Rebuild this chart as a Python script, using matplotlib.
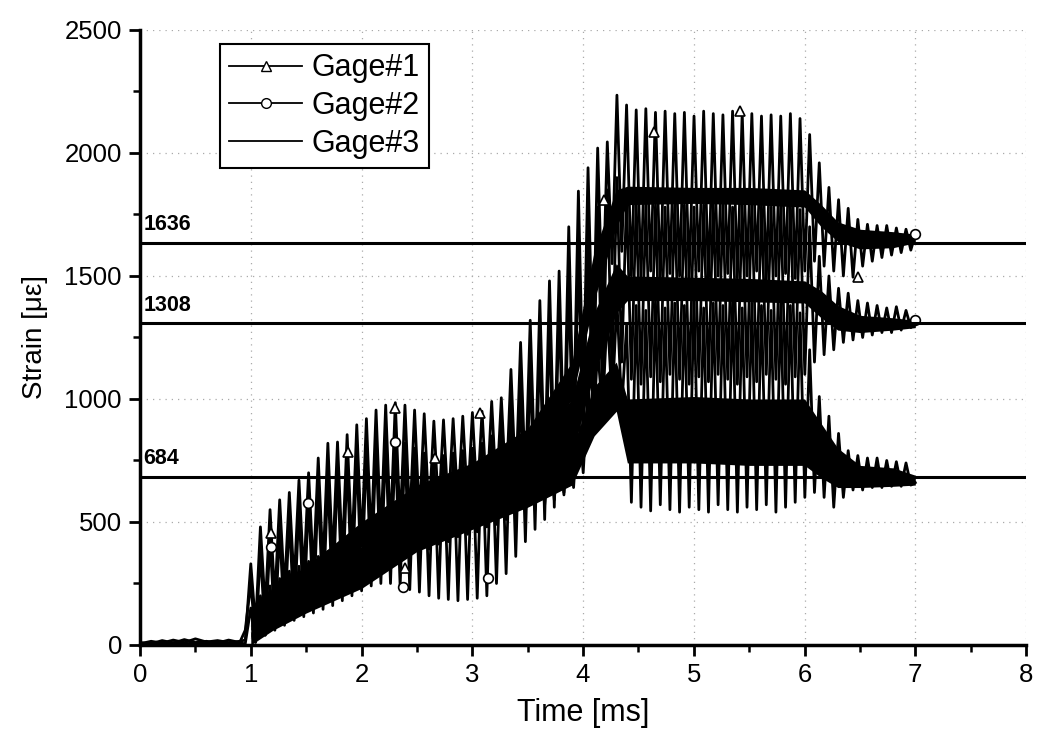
import numpy as np
import matplotlib
matplotlib.use('Agg')
from matplotlib import pyplot as plt

plt.rcParams['font.family'] = ['Liberation Sans', 'DejaVu Sans']

# pre-trigger noise (0 - 0.95 ms)
pre_t = [0.0, 0.1, 0.2, 0.3, 0.4, 0.5, 0.6, 0.7, 0.8, 0.9, 0.95]
g1_pre = [5, 15, 8, 20, 10, 25, 12, 18, 10, 15, 20]
g2_pre = [10, 5, 18, 8, 22, 10, 15, 8, 20, 10, 60]
g3_pre = [0, 8, 3, 10, 5, 8, 3, 10, 5, 8, 5]

# oscillation: one peak and one trough per cycle, 69 cycles from 1.0 ms
t_start = 1.0
period = 0.087

g1_peak = [330, 480, 550, 590, 620, 670, 700, 760, 820, 825,
           855, 895, 920, 955, 975, 985, 975, 955, 940, 910,
           915, 920, 930, 945, 950, 990, 1005, 1120, 1230, 1320,
           1400, 1480, 1520, 1700, 1845, 1940, 2020, 2045, 2235, 2195,
           2175, 2180, 2165, 2170, 2160, 2165, 2150, 2170, 2160, 2155,
           2170, 2165, 2160, 2150, 2155, 2150, 2160, 2140, 2075, 1960,
           1860, 1810, 1775, 1730, 1710, 1705, 1705, 1695, 1690]
g1_trough = [80, 150, 190, 220, 250, 280, 300, 320, 345, 365,
             385, 405, 425, 445, 465, 485, 500, 515, 530, 545,
             555, 565, 575, 585, 595, 610, 625, 640, 660, 680,
             700, 740, 800, 880, 1000, 1150, 1350, 1550, 1600, 1500,
             1490, 1520, 1480, 1510, 1500, 1490, 1520, 1480, 1500, 1510,
             1490, 1500, 1520, 1480, 1500, 1510, 1490, 1520, 1560, 1540,
             1520, 1500, 1495, 1540, 1560, 1575, 1585, 1595, 1605]

g2_peak = [250, 380, 430, 470, 520, 560, 600, 640, 680, 720,
           750, 780, 800, 820, 830, 830, 820, 800, 780, 770,
           770, 780, 790, 800, 820, 850, 900, 980, 1060, 1150,
           1250, 1330, 1400, 1480, 1600, 1700, 1780, 1850, 1900, 1820,
           1800, 1790, 1790, 1780, 1800, 1790, 1780, 1790, 1800, 1790,
           1780, 1790, 1800, 1790, 1780, 1790, 1800, 1770, 1700, 1580,
           1500, 1450, 1430, 1400, 1390, 1380, 1370, 1375, 1360]
g2_trough = [20, 40, 60, 80, 100, 115, 130, 145, 160, 180,
             200, 220, 240, 250, 250, 236, 225, 215, 200, 190,
             185, 180, 185, 190, 200, 250, 290, 360, 420, 470,
             510, 560, 620, 700, 800, 900, 1000, 1100, 1150, 1080,
             1060, 1090, 1070, 1100, 1080, 1060, 1090, 1070, 1100, 1080,
             1060, 1090, 1070, 1100, 1080, 1060, 1090, 1100, 1150, 1180,
             1200, 1230, 1240, 1250, 1260, 1270, 1270, 1280, 1290]

g3_peak = [150, 200, 240, 270, 300, 320, 340, 360, 380, 400,
           420, 440, 460, 480, 500, 520, 540, 560, 580, 600,
           610, 620, 630, 640, 650, 660, 680, 700, 720, 740,
           760, 790, 830, 880, 950, 1050, 1200, 1350, 1400, 1300,
           1380, 1360, 1400, 1370, 1390, 1380, 1410, 1370, 1390, 1380,
           1400, 1370, 1390, 1380, 1360, 1390, 1380, 1350, 1200, 1010,
           930, 860, 790, 770, 760, 760, 750, 745, 740]
g3_trough = [10, 40, 70, 90, 110, 130, 150, 170, 190, 210,
             230, 250, 270, 290, 310, 330, 350, 370, 390, 410,
             420, 440, 450, 460, 480, 490, 510, 520, 540, 550,
             570, 590, 610, 640, 700, 850, 950, 980, 960, 580,
             560, 545, 570, 550, 540, 560, 550, 540, 570, 550,
             540, 560, 550, 570, 540, 560, 580, 600, 620, 600,
             560, 600, 630, 630, 640, 640, 645, 645, 650]

g_end = [1670, 1320, 660]

# dense noise bands of each gage
band_t = [1.0, 1.2, 1.5, 2.0, 2.5, 3.0, 3.5, 3.9, 4.1, 4.3,
          4.4, 5.0, 5.5, 6.0, 6.15, 6.3, 6.5, 6.8, 7.0]
g1_lo = [60, 150, 250, 400, 520, 620, 720, 1000, 1400, 1700,
         1790, 1795, 1790, 1780, 1700, 1640, 1610, 1615, 1635]
g1_hi = [130, 230, 320, 500, 650, 740, 880, 1150, 1600, 1850,
         1865, 1860, 1860, 1850, 1790, 1720, 1690, 1680, 1670]
g2_lo = [30, 120, 190, 300, 440, 530, 630, 780, 1100, 1350,
         1400, 1400, 1395, 1390, 1330, 1280, 1270, 1280, 1290]
g2_hi = [100, 200, 280, 400, 560, 660, 770, 1000, 1350, 1550,
         1500, 1495, 1490, 1480, 1440, 1380, 1340, 1330, 1320]
g3_lo = [0, 60, 130, 230, 380, 470, 560, 650, 850, 950,
         740, 740, 730, 730, 680, 640, 640, 645, 650]
g3_hi = [50, 140, 210, 320, 480, 560, 650, 800, 1050, 1150,
         1000, 1010, 1000, 1000, 900, 800, 730, 720, 690]

# sparse symbols
g1_mark_t = [1.18, 1.88, 2.30, 2.39, 2.66, 3.07, 4.19, 4.64, 5.42, 6.48]
g1_mark_v = [455, 785, 963, 313, 760, 943, 1810, 2085, 2170, 1496]
g2_mark_t = [1.18, 1.52, 2.30, 2.37, 3.14, 7.0, 7.0]
g2_mark_v = [398, 577, 825, 236, 272, 1670, 1320]

# reference levels
ref_levels = [1636, 1308, 684]


def build(pre, peaks, troughs, end):
    k = np.arange(len(peaks))
    tp = t_start + period * k
    tt = tp + period / 2
    t = list(pre_t)
    v = list(pre)
    for a, b, c, d in zip(tp, peaks, tt, troughs):
        t += [a, c]
        v += [b, d]
    t.append(7.0)
    v.append(end)
    return t, v


fig = plt.figure(figsize=(10.38, 7.4), dpi=100)
ax = fig.add_axes([0.1349, 0.1284, 0.8536, 0.8311])

ax.grid(True, which='major', color='#aaaaaa', linestyle=(0, (1, 4)), linewidth=0.9)
ax.set_axisbelow(True)

series = [(g1_pre, g1_peak, g1_trough, g_end[0], g1_lo, g1_hi),
          (g2_pre, g2_peak, g2_trough, g_end[1], g2_lo, g2_hi),
          (g3_pre, g3_peak, g3_trough, g_end[2], g3_lo, g3_hi)]
for pre, pk, tr, end, lo, hi in series:
    t, v = build(pre, pk, tr, end)
    ax.plot(t, v, color='black', linewidth=2.0, zorder=3)
    ax.fill_between(band_t, lo, hi, color='black', linewidth=0, zorder=3)

ax.plot(g1_mark_t, g1_mark_v, linestyle='none', marker='^', markersize=7,
        markerfacecolor='white', markeredgecolor='black', markeredgewidth=1.2, zorder=4)
ax.plot(g2_mark_t, g2_mark_v, linestyle='none', marker='o', markersize=7,
        markerfacecolor='white', markeredgecolor='black', markeredgewidth=1.2, zorder=4)

for lvl in ref_levels:
    ax.axhline(lvl, color='black', linewidth=2.2, zorder=5)
    ax.text(0.03, lvl + 30, str(lvl), fontsize=15.5, fontweight='bold',
            ha='left', va='bottom', zorder=6)

# legend handles
h1, = ax.plot([], [], color='black', linewidth=1.3, marker='^', markersize=7,
              markerfacecolor='white', markeredgecolor='black')
h2, = ax.plot([], [], color='black', linewidth=1.3, marker='o', markersize=7,
              markerfacecolor='white', markeredgecolor='black')
h3, = ax.plot([], [], color='black', linewidth=1.3)
leg = ax.legend([h1, h2, h3], ['Gage#1', 'Gage#2', 'Gage#3'],
                loc='upper left', bbox_to_anchor=(0.09, 0.977),
                fontsize=22, handlelength=2.4, handletextpad=0.3,
                labelspacing=0.25, borderpad=0.3, borderaxespad=0,
                fancybox=False, framealpha=1, edgecolor='black')
leg.get_frame().set_linewidth(1.5)
leg.set_zorder(10)

ax.set_xlim(0, 8)
ax.set_ylim(0, 2500)
ax.set_xticks(range(0, 9))
ax.set_xticks(np.arange(0.5, 8, 1), minor=True)
ax.set_yticks(range(0, 2501, 500))
ax.set_yticks(range(250, 2500, 500), minor=True)

for s in ['top', 'right']:
    ax.spines[s].set_visible(False)
for s in ['left', 'bottom']:
    ax.spines[s].set_linewidth(2.5)

ax.tick_params(which='major', direction='out', length=8, width=2, labelsize=18.5, pad=5)
ax.tick_params(which='minor', direction='out', length=5, width=1.8)

ax.set_xlabel('Time [ms]', fontsize=22, labelpad=8)
ax.set_ylabel('Strain [\u03bc\u03b5]', fontsize=20, labelpad=12)

plt.savefig('out.png', dpi=100)
